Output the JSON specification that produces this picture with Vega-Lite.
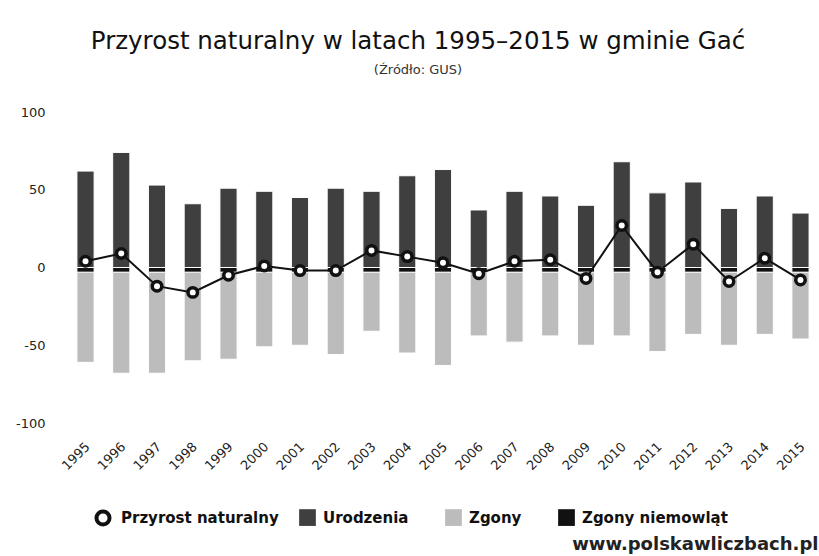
{
  "$schema": "https://vega.github.io/schema/vega-lite/v6.json",
  "autosize": {"type": "none"},
  "padding": {"left": 68, "top": 112, "right": 1, "bottom": 133},
  "width": 750,
  "height": 311,
  "background": "white",
  "config": {
    "view": {"stroke": null},
    "font": "DejaVu Sans",
    "axis": {"labelFont": "DejaVu Sans", "labelColor": "#222", "labelFontSize": 13, "grid": false, "domain": false, "ticks": false, "tickSize": 0},
    "legend": {"labelFont": "DejaVu Sans", "labelFontSize": 15, "labelFontWeight": "bold", "labelColor": "#111", "labelLimit": 300, "title": null}
  },
  "title": {
    "text": "Przyrost naturalny w latach 1995–2015 w gminie Gać",
    "subtitle": "(Źródło: GUS)",
    "font": "DejaVu Sans",
    "fontSize": 24.5,
    "fontWeight": "normal",
    "color": "#111",
    "subtitleFont": "DejaVu Sans",
    "subtitleFontSize": 13,
    "subtitleColor": "#333",
    "subtitlePadding": 10,
    "anchor": "middle",
    "dx": -25,
    "offset": 28
  },
  "data": {
    "values": [
      {"year": "1995", "series": "Urodzenia", "value": 62}, {"year": "1995", "series": "Zgony", "value": -58}, {"year": "1995", "series": "Zgony niemowląt", "value": -3}, {"year": "1995", "series": "Przyrost naturalny", "value": 4},
      {"year": "1996", "series": "Urodzenia", "value": 74}, {"year": "1996", "series": "Zgony", "value": -65}, {"year": "1996", "series": "Zgony niemowląt", "value": -3}, {"year": "1996", "series": "Przyrost naturalny", "value": 9},
      {"year": "1997", "series": "Urodzenia", "value": 53}, {"year": "1997", "series": "Zgony", "value": -65}, {"year": "1997", "series": "Zgony niemowląt", "value": -3}, {"year": "1997", "series": "Przyrost naturalny", "value": -12},
      {"year": "1998", "series": "Urodzenia", "value": 41}, {"year": "1998", "series": "Zgony", "value": -57}, {"year": "1998", "series": "Zgony niemowląt", "value": -3}, {"year": "1998", "series": "Przyrost naturalny", "value": -16},
      {"year": "1999", "series": "Urodzenia", "value": 51}, {"year": "1999", "series": "Zgony", "value": -56}, {"year": "1999", "series": "Zgony niemowląt", "value": -3}, {"year": "1999", "series": "Przyrost naturalny", "value": -5},
      {"year": "2000", "series": "Urodzenia", "value": 49}, {"year": "2000", "series": "Zgony", "value": -48}, {"year": "2000", "series": "Zgony niemowląt", "value": -3}, {"year": "2000", "series": "Przyrost naturalny", "value": 1},
      {"year": "2001", "series": "Urodzenia", "value": 45}, {"year": "2001", "series": "Zgony", "value": -47}, {"year": "2001", "series": "Zgony niemowląt", "value": -3}, {"year": "2001", "series": "Przyrost naturalny", "value": -2},
      {"year": "2002", "series": "Urodzenia", "value": 51}, {"year": "2002", "series": "Zgony", "value": -53}, {"year": "2002", "series": "Zgony niemowląt", "value": -3}, {"year": "2002", "series": "Przyrost naturalny", "value": -2},
      {"year": "2003", "series": "Urodzenia", "value": 49}, {"year": "2003", "series": "Zgony", "value": -38}, {"year": "2003", "series": "Zgony niemowląt", "value": -3}, {"year": "2003", "series": "Przyrost naturalny", "value": 11},
      {"year": "2004", "series": "Urodzenia", "value": 59}, {"year": "2004", "series": "Zgony", "value": -52}, {"year": "2004", "series": "Zgony niemowląt", "value": -3}, {"year": "2004", "series": "Przyrost naturalny", "value": 7},
      {"year": "2005", "series": "Urodzenia", "value": 63}, {"year": "2005", "series": "Zgony", "value": -60}, {"year": "2005", "series": "Zgony niemowląt", "value": -3}, {"year": "2005", "series": "Przyrost naturalny", "value": 3},
      {"year": "2006", "series": "Urodzenia", "value": 37}, {"year": "2006", "series": "Zgony", "value": -41}, {"year": "2006", "series": "Zgony niemowląt", "value": -3}, {"year": "2006", "series": "Przyrost naturalny", "value": -4},
      {"year": "2007", "series": "Urodzenia", "value": 49}, {"year": "2007", "series": "Zgony", "value": -45}, {"year": "2007", "series": "Zgony niemowląt", "value": -3}, {"year": "2007", "series": "Przyrost naturalny", "value": 4},
      {"year": "2008", "series": "Urodzenia", "value": 46}, {"year": "2008", "series": "Zgony", "value": -41}, {"year": "2008", "series": "Zgony niemowląt", "value": -3}, {"year": "2008", "series": "Przyrost naturalny", "value": 5},
      {"year": "2009", "series": "Urodzenia", "value": 40}, {"year": "2009", "series": "Zgony", "value": -47}, {"year": "2009", "series": "Zgony niemowląt", "value": -3}, {"year": "2009", "series": "Przyrost naturalny", "value": -7},
      {"year": "2010", "series": "Urodzenia", "value": 68}, {"year": "2010", "series": "Zgony", "value": -41}, {"year": "2010", "series": "Zgony niemowląt", "value": -3}, {"year": "2010", "series": "Przyrost naturalny", "value": 27},
      {"year": "2011", "series": "Urodzenia", "value": 48}, {"year": "2011", "series": "Zgony", "value": -51}, {"year": "2011", "series": "Zgony niemowląt", "value": -3}, {"year": "2011", "series": "Przyrost naturalny", "value": -3},
      {"year": "2012", "series": "Urodzenia", "value": 55}, {"year": "2012", "series": "Zgony", "value": -40}, {"year": "2012", "series": "Zgony niemowląt", "value": -3}, {"year": "2012", "series": "Przyrost naturalny", "value": 15},
      {"year": "2013", "series": "Urodzenia", "value": 38}, {"year": "2013", "series": "Zgony", "value": -47}, {"year": "2013", "series": "Zgony niemowląt", "value": -3}, {"year": "2013", "series": "Przyrost naturalny", "value": -9},
      {"year": "2014", "series": "Urodzenia", "value": 46}, {"year": "2014", "series": "Zgony", "value": -40}, {"year": "2014", "series": "Zgony niemowląt", "value": -3}, {"year": "2014", "series": "Przyrost naturalny", "value": 6},
      {"year": "2015", "series": "Urodzenia", "value": 35}, {"year": "2015", "series": "Zgony", "value": -43}, {"year": "2015", "series": "Zgony niemowląt", "value": -3}, {"year": "2015", "series": "Przyrost naturalny", "value": -8}
    ]
  },
  "encoding": {
    "x": {
      "field": "year",
      "type": "ordinal",
      "scale": {"paddingInner": 0.52, "paddingOuter": 0.25},
      "axis": {
        "labelAngle": -45,
        "labelPadding": 17,
        "labelOffset": -2,
        "title": "www.polskawliczbach.pl",
        "titleFont": "DejaVu Sans",
        "titleFontSize": 18,
        "titleFontWeight": "bold",
        "titleColor": "#222",
        "titleAnchor": "end",
        "titleAlign": "right",
        "titleBaseline": "middle",
        "titleX": 750,
        "titleY": 121
      }
    }
  },
  "layer": [
    {
      "transform": [{"filter": "datum.series !== 'Przyrost naturalny'"}],
      "mark": {"type": "bar", "stroke": "white", "strokeWidth": 1},
      "encoding": {
        "y": {
          "field": "value",
          "type": "quantitative",
          "stack": "zero",
          "scale": {"domain": [-100, 100], "nice": false},
          "axis": {"values": [-100, -50, 0, 50, 100], "title": null, "labelPadding": 23, "labelExpr": "replace(datum.label, '−', '-')"}
        },
        "order": {"field": "series", "sort": "descending"},
        "color": {
          "field": "series",
          "type": "nominal",
          "scale": {
            "domain": ["Urodzenia", "Zgony", "Zgony niemowląt"],
            "range": ["#3f3f3f", "#bcbcbc", "#111111"]
          },
          "legend": {
            "orient": "none",
            "legendX": 231,
            "legendY": 397,
            "direction": "horizontal",
            "labelOffset": 7,
            "symbolType": "square",
            "symbolSize": 280,
            "symbolStrokeWidth": 0,
            "columnPadding": 36
          }
        }
      }
    },
    {
      "transform": [{"filter": "datum.series === 'Przyrost naturalny'"}],
      "mark": {"type": "line", "color": "#111", "strokeWidth": 2},
      "encoding": {
        "y": {"field": "value", "type": "quantitative"}
      }
    },
    {
      "transform": [{"filter": "datum.series === 'Przyrost naturalny'"}],
      "mark": {"type": "point", "filled": true, "fill": "white", "strokeWidth": 3.5, "size": 90, "opacity": 1},
      "encoding": {
        "y": {"field": "value", "type": "quantitative"},
        "stroke": {
          "field": "series",
          "type": "nominal",
          "scale": {"domain": ["Przyrost naturalny"], "range": ["#111111"]},
          "legend": {
            "orient": "none",
            "legendX": 26,
            "legendY": 397,
            "direction": "horizontal",
            "labelOffset": 9,
            "symbolType": "circle",
            "symbolSize": 170,
            "symbolFillColor": "white",
            "symbolStrokeWidth": 4
          }
        }
      }
    }
  ]
}
